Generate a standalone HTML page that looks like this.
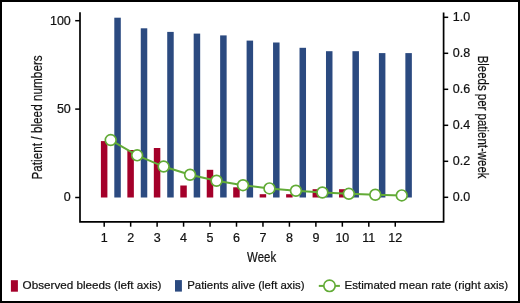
<!DOCTYPE html>
<html><head><meta charset="utf-8"><style>
html,body{margin:0;padding:0;background:#fff;}
body{width:520px;height:303px;overflow:hidden;position:relative;font-family:"Liberation Sans",sans-serif;}
svg{position:absolute;left:0;top:0;display:block;}
svg{will-change:transform;}
text{stroke:#111;stroke-width:0.22px;}
</style></head><body>
<svg width="520" height="303" viewBox="0 0 520 303">
<rect x="1" y="1" width="518" height="301" fill="#fff" stroke="#000" stroke-width="2"/>
<rect x="100.90" y="141.1" width="6.5" height="56.40" fill="#a4002a"/>
<rect x="114.30" y="17.7" width="6.5" height="179.80" fill="#2b4a80"/>
<rect x="127.36" y="150.0" width="6.5" height="47.50" fill="#a4002a"/>
<rect x="140.76" y="28.3" width="6.5" height="169.20" fill="#2b4a80"/>
<rect x="153.82" y="148.0" width="6.5" height="49.50" fill="#a4002a"/>
<rect x="167.22" y="31.9" width="6.5" height="165.60" fill="#2b4a80"/>
<rect x="180.28" y="185.5" width="6.5" height="12.00" fill="#a4002a"/>
<rect x="193.68" y="33.6" width="6.5" height="163.90" fill="#2b4a80"/>
<rect x="206.74" y="169.8" width="6.5" height="27.70" fill="#a4002a"/>
<rect x="220.14" y="35.4" width="6.5" height="162.10" fill="#2b4a80"/>
<rect x="233.20" y="187.3" width="6.5" height="10.20" fill="#a4002a"/>
<rect x="246.60" y="40.6" width="6.5" height="156.90" fill="#2b4a80"/>
<rect x="259.66" y="194.2" width="6.5" height="3.30" fill="#a4002a"/>
<rect x="273.06" y="42.5" width="6.5" height="155.00" fill="#2b4a80"/>
<rect x="286.12" y="194.2" width="6.5" height="3.30" fill="#a4002a"/>
<rect x="299.52" y="47.8" width="6.5" height="149.70" fill="#2b4a80"/>
<rect x="312.58" y="189.2" width="6.5" height="8.30" fill="#a4002a"/>
<rect x="325.98" y="51.2" width="6.5" height="146.30" fill="#2b4a80"/>
<rect x="339.04" y="189.2" width="6.5" height="8.30" fill="#a4002a"/>
<rect x="352.44" y="51.2" width="6.5" height="146.30" fill="#2b4a80"/>
<rect x="378.90" y="53.1" width="6.5" height="144.40" fill="#2b4a80"/>
<rect x="405.36" y="53.1" width="6.5" height="144.40" fill="#2b4a80"/>
<path d="M80 12.2V221.9H443.6V12.5" fill="none" stroke="#000" stroke-width="1.7"/>
<path d="M75.2 20.7H80" stroke="#000" stroke-width="1.5"/>
<path d="M75.2 109.1H80" stroke="#000" stroke-width="1.5"/>
<path d="M75.2 197.5H80" stroke="#000" stroke-width="1.5"/>
<path d="M443.6 17.3H448.2" stroke="#000" stroke-width="1.5"/>
<path d="M443.6 53.3H448.2" stroke="#000" stroke-width="1.5"/>
<path d="M443.6 89.3H448.2" stroke="#000" stroke-width="1.5"/>
<path d="M443.6 125.3H448.2" stroke="#000" stroke-width="1.5"/>
<path d="M443.6 161.3H448.2" stroke="#000" stroke-width="1.5"/>
<path d="M443.6 197.3H448.2" stroke="#000" stroke-width="1.5"/>
<path d="M104.20 221.9V226.7" stroke="#000" stroke-width="1.5"/>
<path d="M130.66 221.9V226.7" stroke="#000" stroke-width="1.5"/>
<path d="M157.12 221.9V226.7" stroke="#000" stroke-width="1.5"/>
<path d="M183.58 221.9V226.7" stroke="#000" stroke-width="1.5"/>
<path d="M210.04 221.9V226.7" stroke="#000" stroke-width="1.5"/>
<path d="M236.50 221.9V226.7" stroke="#000" stroke-width="1.5"/>
<path d="M262.96 221.9V226.7" stroke="#000" stroke-width="1.5"/>
<path d="M289.42 221.9V226.7" stroke="#000" stroke-width="1.5"/>
<path d="M315.88 221.9V226.7" stroke="#000" stroke-width="1.5"/>
<path d="M342.34 221.9V226.7" stroke="#000" stroke-width="1.5"/>
<path d="M368.80 221.9V226.7" stroke="#000" stroke-width="1.5"/>
<path d="M395.26 221.9V226.7" stroke="#000" stroke-width="1.5"/>
<polyline points="110.70,140.06 137.16,155.34 163.62,166.55 190.08,174.76 216.54,180.78 243.00,185.19 269.46,188.42 295.92,190.79 322.38,192.53 348.84,193.80 375.30,194.74 401.76,195.42" fill="none" stroke="#62ab36" stroke-width="2"/>
<circle cx="110.70" cy="140.06" r="5.4" fill="#fff" stroke="#62ab36" stroke-width="1.7"/>
<circle cx="137.16" cy="155.34" r="5.4" fill="#fff" stroke="#62ab36" stroke-width="1.7"/>
<circle cx="163.62" cy="166.55" r="5.4" fill="#fff" stroke="#62ab36" stroke-width="1.7"/>
<circle cx="190.08" cy="174.76" r="5.4" fill="#fff" stroke="#62ab36" stroke-width="1.7"/>
<circle cx="216.54" cy="180.78" r="5.4" fill="#fff" stroke="#62ab36" stroke-width="1.7"/>
<circle cx="243.00" cy="185.19" r="5.4" fill="#fff" stroke="#62ab36" stroke-width="1.7"/>
<circle cx="269.46" cy="188.42" r="5.4" fill="#fff" stroke="#62ab36" stroke-width="1.7"/>
<circle cx="295.92" cy="190.79" r="5.4" fill="#fff" stroke="#62ab36" stroke-width="1.7"/>
<circle cx="322.38" cy="192.53" r="5.4" fill="#fff" stroke="#62ab36" stroke-width="1.7"/>
<circle cx="348.84" cy="193.80" r="5.4" fill="#fff" stroke="#62ab36" stroke-width="1.7"/>
<circle cx="375.30" cy="194.74" r="5.4" fill="#fff" stroke="#62ab36" stroke-width="1.7"/>
<circle cx="401.76" cy="195.42" r="5.4" fill="#fff" stroke="#62ab36" stroke-width="1.7"/>
<text x="70.8" y="24.5" font-family="Liberation Sans, sans-serif" font-size="12.5" text-anchor="end" fill="#111">100</text>
<text x="70.8" y="112.9" font-family="Liberation Sans, sans-serif" font-size="12.5" text-anchor="end" fill="#111">50</text>
<text x="70.8" y="201.2" font-family="Liberation Sans, sans-serif" font-size="12.5" text-anchor="end" fill="#111">0</text>
<text x="452.8" y="20.7" font-family="Liberation Sans, sans-serif" font-size="12.5" fill="#111">1.0</text>
<text x="452.8" y="56.7" font-family="Liberation Sans, sans-serif" font-size="12.5" fill="#111">0.8</text>
<text x="452.8" y="92.7" font-family="Liberation Sans, sans-serif" font-size="12.5" fill="#111">0.6</text>
<text x="452.8" y="128.7" font-family="Liberation Sans, sans-serif" font-size="12.5" fill="#111">0.4</text>
<text x="452.8" y="164.7" font-family="Liberation Sans, sans-serif" font-size="12.5" fill="#111">0.2</text>
<text x="452.8" y="200.7" font-family="Liberation Sans, sans-serif" font-size="12.5" fill="#111">0.0</text>
<text x="104.20" y="241.8" font-family="Liberation Sans, sans-serif" font-size="12.5" text-anchor="middle" fill="#111">1</text>
<text x="130.66" y="241.8" font-family="Liberation Sans, sans-serif" font-size="12.5" text-anchor="middle" fill="#111">2</text>
<text x="157.12" y="241.8" font-family="Liberation Sans, sans-serif" font-size="12.5" text-anchor="middle" fill="#111">3</text>
<text x="183.58" y="241.8" font-family="Liberation Sans, sans-serif" font-size="12.5" text-anchor="middle" fill="#111">4</text>
<text x="210.04" y="241.8" font-family="Liberation Sans, sans-serif" font-size="12.5" text-anchor="middle" fill="#111">5</text>
<text x="236.50" y="241.8" font-family="Liberation Sans, sans-serif" font-size="12.5" text-anchor="middle" fill="#111">6</text>
<text x="262.96" y="241.8" font-family="Liberation Sans, sans-serif" font-size="12.5" text-anchor="middle" fill="#111">7</text>
<text x="289.42" y="241.8" font-family="Liberation Sans, sans-serif" font-size="12.5" text-anchor="middle" fill="#111">8</text>
<text x="315.88" y="241.8" font-family="Liberation Sans, sans-serif" font-size="12.5" text-anchor="middle" fill="#111">9</text>
<text x="342.34" y="241.8" font-family="Liberation Sans, sans-serif" font-size="12.5" text-anchor="middle" fill="#111">10</text>
<text x="368.80" y="241.8" font-family="Liberation Sans, sans-serif" font-size="12.5" text-anchor="middle" fill="#111">11</text>
<text x="395.26" y="241.8" font-family="Liberation Sans, sans-serif" font-size="12.5" text-anchor="middle" fill="#111">12</text>
<text x="261.6" y="261.9" font-family="Liberation Sans, sans-serif" font-size="14.5" text-anchor="middle" textLength="29" lengthAdjust="spacingAndGlyphs" fill="#111">Week</text>
<text transform="translate(41.7,117.4) rotate(-90)" x="0" y="0" font-family="Liberation Sans, sans-serif" font-size="15.5" text-anchor="middle" textLength="124.3" lengthAdjust="spacingAndGlyphs" fill="#111">Patient / bleed numbers</text>
<text transform="translate(478.1,117.1) rotate(90)" x="0" y="0" font-family="Liberation Sans, sans-serif" font-size="15.5" text-anchor="middle" textLength="122.9" lengthAdjust="spacingAndGlyphs" fill="#111">Bleeds per patient-week</text>
<rect x="10.9" y="280.2" width="7" height="11.5" fill="#a4002a"/>
<text x="22.6" y="289.2" font-family="Liberation Sans, sans-serif" font-size="11.8" textLength="138.9" lengthAdjust="spacingAndGlyphs" fill="#111">Observed bleeds (left axis)</text>
<rect x="175" y="280.1" width="6.9" height="11.5" fill="#2b4a80"/>
<text x="187.2" y="289.2" font-family="Liberation Sans, sans-serif" font-size="11.8" textLength="117.4" lengthAdjust="spacingAndGlyphs" fill="#111">Patients alive (left axis)</text>
<path d="M318.8 285.9H339.9" stroke="#62ab36" stroke-width="2"/>
<circle cx="329.5" cy="285.8" r="5.7" fill="#fff" stroke="#62ab36" stroke-width="1.7"/>
<text x="344.5" y="289.2" font-family="Liberation Sans, sans-serif" font-size="11.8" textLength="163.7" lengthAdjust="spacingAndGlyphs" fill="#111">Estimated mean rate (right axis)</text>
</svg>
</body></html>
